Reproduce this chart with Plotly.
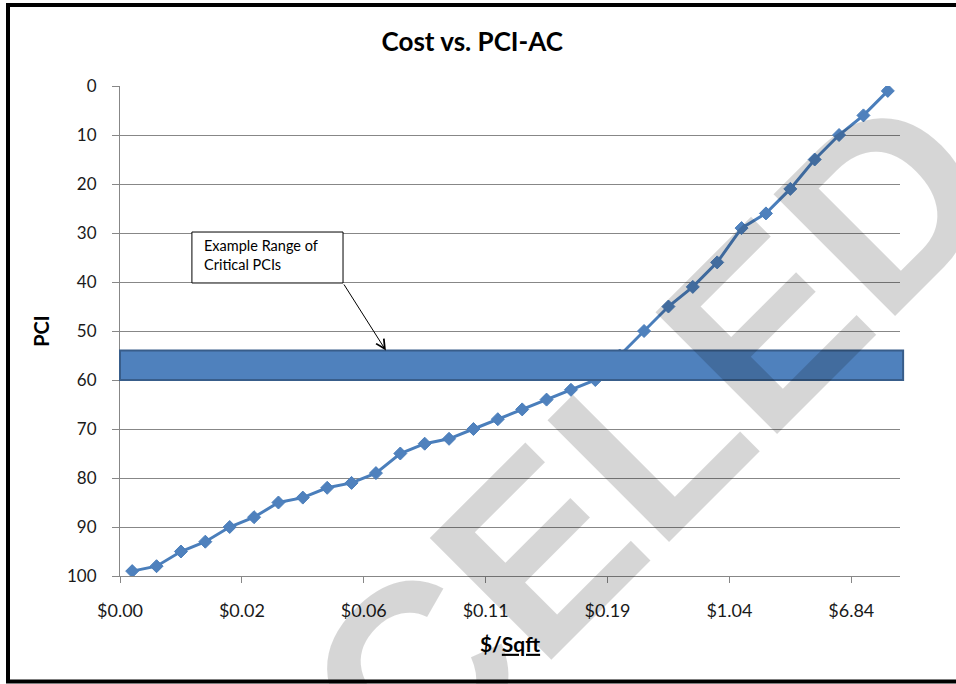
import plotly.graph_objects as go

# PCI reached at each cost step (category index along the $/Sqft axis)
pci = [99, 98, 95, 93, 90, 88, 85, 84, 82, 81, 79, 75, 73, 72, 70, 68,
       66, 64, 62, 60, 55, 50, 45, 41, 36, 29, 26, 21, 15, 10, 6, 1]
steps = list(range(len(pci)))

# labelled costs, one every five steps
cost_labels = ["$0.00", "$0.02", "$0.06", "$0.11", "$0.19", "$1.04", "$6.84"]
label_every = 5

# example range of critical PCIs
critical_range = [54, 60]

FONT = "Lato"
BLUE_LINE = "#4A7EBB"
BLUE_FILL = "#4F81BD"
GRID = "#878787"

fig = go.Figure()
fig.add_trace(go.Scatter(
    x=steps, y=pci, mode="lines+markers",
    line=dict(color=BLUE_LINE, width=3),
    marker=dict(symbol="diamond", size=10, color=BLUE_FILL,
                line=dict(color=BLUE_LINE, width=1)),
    showlegend=False, hoverinfo="x+y",
))

n = len(pci)
fig.update_layout(
    width=956, height=684,
    margin=dict(l=120, r=56, t=86, b=108),
    paper_bgcolor="white", plot_bgcolor="white",
    font=dict(family=FONT, color="#1a1a1a"),
    title=dict(text="<b>Cost vs. PCI-AC</b>", xref="container", x=0.494,
               y=1 - 42 / 684, yanchor="middle", xanchor="center",
               font=dict(family=FONT, size=26, color="#000")),
    xaxis=dict(
        range=[-0.5, n - 0.5],
        tickvals=[i * label_every - 0.5 for i in range(len(cost_labels))],
        ticktext=cost_labels,
        ticks="outside", ticklen=6, tickcolor=GRID,
        ticklabelstandoff=12,
        tickfont=dict(size=18, color="#1a1a1a"),
        showgrid=False, zeroline=False,
        showline=True, linecolor=GRID, linewidth=1,
        title=dict(text="<b>$/<u>Sqft</u></b>", standoff=17,
                   font=dict(size=21, color="#000")),
    ),
    yaxis=dict(
        range=[100, 0], dtick=10,
        ticks="outside", ticklen=7, tickcolor=GRID,
        ticklabelstandoff=12,
        tickfont=dict(size=17, color="#1a1a1a"),
        showgrid=True, gridcolor=GRID, gridwidth=1,
        zeroline=False,
        showline=True, linecolor=GRID, linewidth=1,
        title=dict(text="<b>PCI</b>", standoff=12,
                   font=dict(size=20, color="#000")),
    ),
)

# critical range band across the plot
fig.add_shape(type="rect", xref="paper", yref="y",
              x0=0, x1=1.004, y0=critical_range[0], y1=critical_range[1],
              fillcolor=BLUE_FILL, line=dict(color="#385D8A", width=2),
              layer="above")

# callout box with its pointer
fig.add_shape(type="rect", xref="x", yref="y",
              x0=2.45, x1=8.65, y0=29.8, y1=40.2,
              fillcolor="white", line=dict(color="#000", width=1),
              layer="above")
fig.add_annotation(x=2.85, y=30.4, xref="x", yref="y",
                   xanchor="left", yanchor="top", align="left",
                   text="Example Range of<br>Critical PCIs", showarrow=False,
                   font=dict(family=FONT, size=14.5, color="#000"))
fig.add_annotation(x=10.41, y=critical_range[0], xref="x", yref="y",
                   ax=8.65, ay=40.2, axref="x", ayref="y",
                   text="", showarrow=True, arrowhead=5, arrowsize=1.8,
                   arrowwidth=1, arrowcolor="#000", standoff=0)

# outer frame
fig.add_shape(type="rect", xref="paper", yref="paper",
              x0=(8 - 120) / 780, x1=(965 - 120) / 780,
              y0=(576 - 681.5) / 490, y1=(576 - 5) / 490,
              line=dict(color="#000", width=4), fillcolor="rgba(0,0,0,0)",
              layer="above")

# status stamp
fig.add_annotation(x=(458 - 120) / 780, y=(576 - 630) / 490,
                   xref="paper", yref="paper", text="<b>CANCELED</b>",
                   xanchor="center", yanchor="middle",
                   showarrow=False, textangle=-45,
                   font=dict(family="Liberation Sans", size=250,
                             color="rgba(0,0,0,0.16)"))

fig.write_html("out.html")
